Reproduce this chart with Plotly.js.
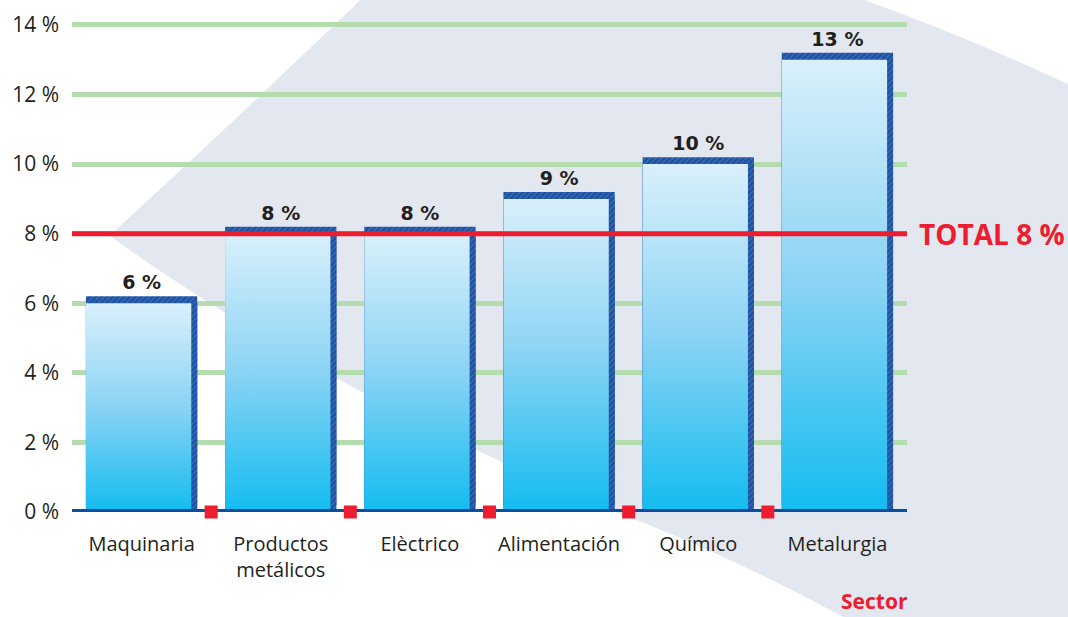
<!DOCTYPE html>
<html>
<head>
<meta charset="utf-8">
<script src="https://cdn.plot.ly/plotly-3.0.1.min.js"></script>
<style>html,body{margin:0;padding:0;background:#fff;}#chart{width:1068px;height:617px;}</style>
</head>
<body>
<div id="chart"></div>
<script>
const categories = ['Maquinaria', 'Productos<br>metálicos', 'Elèctrico', 'Alimentación', 'Químico', 'Metalurgia'];
const values = [6, 8, 8, 9, 10, 13];
const totalValue = 8;
const yTickVals = [0, 2, 4, 6, 8, 10, 12, 14];
const yTickText = yTickVals.map(v => v + ' %');
const xTitle = 'Sector';

const idx = categories.map((_, i) => i);
const SHADOW = 0.2;      // shadow offset in y units
const HALF = 0.4;        // half bar width
const RIGHT = 0.357;     // body right edge (leaves a shadow strip)
const YMAX = 14.2;       // axis top (a little above the last gridline)

const shadowMarker = { color: '#1d54a4', line: { width: 0 },
  pattern: { shape: '/', fgcolor: '#6680c2', bgcolor: '#1d54a4', size: 4, solidity: 0.2 } };

const traces = [];
// invisible trace to anchor the main (grid) axis
traces.push({ type: 'scatter', mode: 'markers', x: [0], y: [0], marker: { opacity: 0 }, hoverinfo: 'skip' });
// shadow (dark blue) bars, raised copy with value labels
traces.push({
  type: 'bar', x: idx, y: values, yaxis: 'y2', width: 2 * HALF,
  marker: shadowMarker,
  text: values.map(v => v + ' %'), textposition: 'outside', constraintext: 'none', cliponaxis: false,
  textfont: { family: 'DejaVu Sans', size: 19, color: '#231f20', weight: 'bold' },
  hoverinfo: 'skip'
});
// shadow, unraised copy (fills down to the axis)
traces.push({
  type: 'bar', x: idx, y: values, yaxis: 'y3', width: 2 * HALF,
  marker: shadowMarker, hoverinfo: 'skip'
});
// gradient bodies
values.forEach((v, i) => {
  traces.push({
    type: 'scatter', mode: 'lines', fill: 'toself', yaxis: 'y3',
    x: [i - HALF, i + RIGHT, i + RIGHT, i - HALF, i - HALF],
    y: [0, 0, v, v, 0],
    line: { width: 0, color: 'rgba(0,0,0,0)' },
    fillgradient: { type: 'vertical', colorscale: [[0, '#12bcf0'], [0.5, '#8ad3f4'], [1, '#d9f0fb']] },
    hoverinfo: 'skip', showlegend: false
  });
});
// axis line
traces.push({
  type: 'scatter', mode: 'lines', yaxis: 'y3', x: [-0.5, categories.length - 0.5], y: [0, 0],
  line: { color: '#0a4f9f', width: 6 }, cliponaxis: false, hoverinfo: 'skip'
});
// separators
traces.push({
  type: 'scatter', mode: 'markers', yaxis: 'y3', x: idx.slice(1).map(i => i - 0.5), y: idx.slice(1).map(() => 0),
  marker: { symbol: 'square', size: 13, color: '#ed1c2e' }, cliponaxis: false, hoverinfo: 'skip'
});

const layout = {
  width: 1068, height: 617,
  margin: { l: 72, r: 161, t: 18, b: 105 },
  paper_bgcolor: '#ffffff', plot_bgcolor: 'rgba(0,0,0,0)',
  showlegend: false,
  font: { family: 'Open Sans', color: '#231f20' },
  xaxis: {
    range: [-0.5, categories.length - 0.5], tickvals: idx, ticktext: categories,
    showgrid: false, zeroline: false, showline: false, ticks: '', ticklabelstandoff: 18,
    tickfont: { family: 'Open Sans', size: 20, color: '#231f20' }, fixedrange: true
  },
  yaxis: {
    range: [0, YMAX], tickvals: yTickVals, ticktext: yTickText,
    showgrid: true, gridcolor: '#b4dcae', gridwidth: 5, zeroline: false, showline: false,
    ticks: '', ticklabelstandoff: 12,
    tickfont: { family: 'Open Sans', size: 21, color: '#231f20' }, fixedrange: true
  },
  yaxis2: { overlaying: 'y', range: [-SHADOW, YMAX - SHADOW], visible: false, fixedrange: true },
  yaxis3: { overlaying: 'y', range: [0, YMAX], visible: false, fixedrange: true },
  shapes: [
    { type: 'path', xref: 'paper', yref: 'paper', layer: 'below',
      path: 'M 0.36 1.06 L 0.908 1.06 Q 1.05 0.98 1.2 0.86 L 1.2 -0.22 L 0.932 -0.22 Q 0.78 -0.08 0.644 0.004 Q 0.3 0.25 0.045 0.559 Q 0.2 0.8 0.36 1.06 Z',
      fillcolor: 'rgba(222,227,236,0.85)', line: { width: 0 } },
    { type: 'line', xref: 'paper', x0: 0, x1: 1, yref: 'y', y0: totalValue, y1: totalValue,
      line: { color: '#ed1c2e', width: 5 }, layer: 'above' }
  ],
  annotations: [
    { xref: 'paper', x: 1, xanchor: 'left', xshift: 10, yref: 'y', y: totalValue, yanchor: 'middle',
      text: '<b>TOTAL ' + totalValue + ' %</b>', showarrow: false,
      font: { family: 'Open Sans', size: 28, color: '#ed1c2e' } },
    { xref: 'paper', x: 1, xanchor: 'right', xshift: 2, yref: 'paper', y: -0.211, yanchor: 'bottom',
      text: '<b>' + xTitle + '</b>', showarrow: false, borderpad: 0,
      font: { family: 'Open Sans', size: 21, color: '#ed1c2e' } }
  ]
};

Plotly.newPlot('chart', traces, layout, { displayModeBar: false, staticPlot: true });
</script>
</body>
</html>
